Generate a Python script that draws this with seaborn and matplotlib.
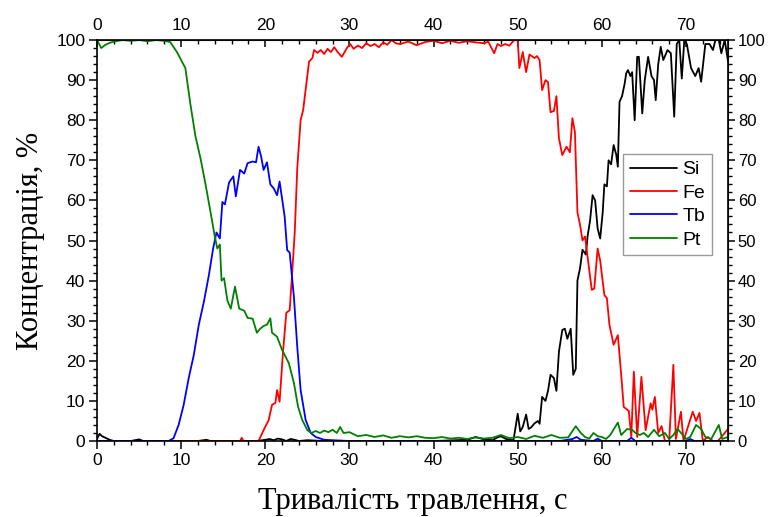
import matplotlib
matplotlib.use("Agg")
import matplotlib.pyplot as plt
from matplotlib.ticker import MultipleLocator
import seaborn as sns
import pandas as pd

# ---------------- data ----------------
si_t = [0, 0.3, 0.6, 1.0, 1.5, 2, 3, 4, 5, 5.5, 6, 8, 10, 12, 13, 13.5, 14, 17, 19, 20, 20.5, 21, 21.5, 22,
        22.5, 23, 23.5, 24, 25, 27, 30, 35, 40, 44, 45, 46, 47, 47.5, 48, 48.5, 49, 49.5, 50, 50.3, 50.6, 51,
        51.3, 51.6, 52, 52.4, 52.6, 52.9, 53.3, 53.6, 53.9, 54.3, 54.6, 54.9, 55.3, 55.6, 55.9, 56.3, 56.6,
        56.9, 57.1, 57.4, 57.7, 58.1, 58.3, 58.6, 58.9, 59.2, 59.5, 59.8, 60.1, 60.3, 60.6, 60.8, 61.1, 61.4,
        61.7, 61.9, 62.1, 62.4, 62.7, 62.9, 63.1, 63.4, 63.6, 63.9, 64.2, 64.4, 64.8, 65.1, 65.5, 65.9, 66.2,
        66.4, 66.7, 67.0, 67.3, 67.8, 68.2, 68.6, 68.9, 69.2, 69.5, 69.8, 70.1, 70.6, 71.1, 71.5, 71.8, 72.3,
        72.8, 73.2, 73.5, 73.9, 74.2, 74.6, 75.0]
si_c = [0.5, 1.8, 1.2, 0.8, 0.3, 0, 0, 0, 0.4, 0, 0, 0, 0, 0, 0.3, 0, 0, 0, 0, 0.3, 0.5, 0.2, 0.6, 0.4,
        0, 0.5, 0.3, 0, 0.2, 0, 0, 0, 0, 0.3, 1.0, 0.4, 0.2, 0.8, 1.2, 0.6, 0.3, 0.2, 6.8, 2.4, 3.5, 6.6,
        3.0, 3.4, 4.4, 5.0, 4.3, 11, 10, 12.5, 16.5, 15.7, 12.5, 22.3, 27.7, 28, 25.5, 28, 16.5,
        18, 40, 43, 47.7, 46.5, 51, 55, 61.3, 60, 53, 50.5, 57, 64, 63.5, 70, 69, 73.8,
        71.5, 68.4, 84.6, 86, 89, 91.7, 92.5, 91, 92, 80, 95.8, 95.8, 81.7, 90, 95.8, 91, 90,
        85, 94, 98.3, 95, 97.5, 96.7, 80.9, 99, 100, 90.4, 100, 99, 93, 91, 93, 89.6, 99,
        99, 97.5, 100, 100, 96.7, 100, 94.6]

fe_t = [0, 5, 10, 15, 17, 17.2, 17.4, 18, 19.2, 19.8, 20.4, 20.8, 21.2, 21.4, 21.7, 22.1, 22.5, 22.9, 23.2,
        23.5, 23.8, 24.2, 24.5, 25.0, 25.2, 25.6, 25.8, 26.2, 26.6, 27.0, 27.4, 27.8, 28.2, 28.6, 29.1, 29.7,
        30.1, 30.5, 31, 31.5, 32, 32.5, 33, 33.5, 34, 34.5, 35, 35.5, 36, 37, 38, 39, 40, 41, 42, 43, 44, 45,
        46, 46.5, 47.2, 47.6, 48, 48.5, 49, 49.6, 50.0, 50.2, 50.6, 51.0, 51.4, 52.0, 52.3, 52.6, 52.9, 53.3,
        53.6, 53.9, 54.3, 54.6, 54.9, 55.3, 55.8, 56.2, 56.5, 56.8, 57.1, 57.4, 57.7, 58.0, 58.3, 58.8, 59.1,
        59.5, 59.8, 60.3, 60.6, 60.9, 61.4, 61.9, 62.3, 62.6, 63.2, 63.5, 63.8, 64.2, 64.7, 65.2, 65.8, 66.0,
        66.3, 66.7, 67.1, 67.5, 68.0, 68.5, 68.8, 69.4, 69.7, 70.0, 70.8, 71.2, 71.6, 72.0, 72.6, 73.2, 73.8,
        74.6, 75.0]
fe_c = [0, 0, 0, 0, 0, 0.8, 0, 0, 0, 2.7, 5.2, 9, 9.5, 12.7, 9.8, 22, 32, 32.6, 42,
        52, 68, 80, 82.5, 91, 94.6, 95.5, 97.5, 96.8, 97.5, 96.5, 97.8, 97, 98.2, 97, 95.8, 98,
        99, 97.8, 98.6, 98, 99.2, 98.5, 99, 98.2, 99.4, 98.8, 100, 99.2, 99, 99.6, 98.7, 99.5, 99.8, 99.2,
        99.8, 99.3, 99.7, 99.4, 99.2, 99.6, 96.7, 99, 98.5, 99, 98.6, 100, 100, 93, 97, 92, 96.4, 95.5, 96,
        95, 87.5, 90, 89.5, 82, 82.3, 86, 75.5, 71.3, 73.4, 72, 80.5, 77, 57, 54, 50, 51, 46, 37.7, 38,
        48, 45, 36.4, 35.6, 29, 24, 26.4, 16.5, 8.5, 7.5, 1, 17.3, 1, 16, 2.7, 9.4, 7.8,
        11, 2, 3.7, 0, 0, 19, 0.5, 7.3, 0, 2, 7.3, 5, 7, 0, 1, 0, 0,
        2, 3]

tb_t = [0, 5, 8.5, 9.1, 9.7, 10.3, 10.9, 11.5, 12.1, 12.7, 13.3, 13.8, 14.2, 14.6, 14.9, 15.2, 15.7, 16.2,
        16.5, 17.0, 17.5, 17.9, 18.5, 18.9, 19.2, 19.5, 19.8, 20.2, 20.6, 21.0, 21.4, 21.7, 22.3, 22.6, 22.9,
        23.4, 23.8, 24.2, 24.8, 25.4, 26.0, 27.0, 30, 40, 50, 55, 56.5, 57, 57.5, 59, 59.5, 60, 63, 63.5, 64,
        70, 70.5, 71, 75]
tb_c = [0, 0, 0, 0.7, 4, 9, 15.7, 21.4, 29, 34.7, 41.4, 48, 52, 50.5, 59.6, 59, 64.5, 66,
        61, 67.6, 66.7, 69.3, 69.7, 69.5, 73.4, 71, 67.6, 69.5, 64, 63, 61.3, 64.7, 56, 47.6, 47,
        36, 23.5, 12.7, 5.2, 2, 1, 0.3, 0, 0, 0, 0, 0.5, 1, 0.3, 0, 0.6, 0, 0, 0.8, 0,
        0, 0.5, 0, 0]

pt_t = [0, 0.5, 1, 1.5, 2, 3, 4, 5, 6, 7, 8, 8.7, 9.5, 10, 10.5, 11.1, 11.7, 12.3, 12.9, 13.5, 14.0, 14.3,
        14.6, 14.8, 15.1, 15.5, 15.9, 16.4, 16.9, 17.5, 17.9, 18.5, 19.0, 19.4, 19.8, 20.2, 20.6, 20.8, 21.4,
        22.0, 22.8, 23.4, 23.9, 24.4, 25.0, 25.5, 26, 26.5, 27, 27.5, 28, 28.5, 28.9, 29.3, 30, 31, 32, 33, 34,
        35, 36, 37, 38, 39, 40, 41, 42, 43, 44, 45, 46, 47, 48, 49, 50, 51, 52, 53, 54, 55, 56, 56.9, 57.5,
        58, 58.5, 59, 59.5, 60, 60.5, 61, 61.9, 62.3, 63, 63.6, 64, 64.5, 65, 65.5, 66.2, 66.8, 67.5, 68,
        68.5, 69, 69.5, 70, 70.5, 71.2, 71.8, 72.3, 73, 73.9, 74.3, 75]
pt_c = [100, 98, 98.8, 99.3, 99.6, 100, 99.8, 100, 99.7, 100, 99.8, 99.5, 97, 95, 93, 84, 76, 70.5, 64, 57, 51, 48,
        49, 40, 40.6, 35, 33, 38.5, 33, 32.5, 30.7, 30.5, 27, 28, 28.7, 29, 30.6, 27, 26,
        22.7, 19.4, 14.5, 8.5, 5.2, 2.7, 2, 2.5, 2, 2.6, 2.2, 2.8, 2, 3.5, 2, 2.2, 1.2, 1.5, 1, 1.4,
        0.8, 1.2, 0.9, 1.2, 0.8, 0.7, 1, 0.6, 0.8, 0.5, 0.9, 0.6, 0.8, 1.5, 0.7, 1, 0.5, 1.3, 0.8, 1.5, 0.8,
        0.9, 3.7, 2, 1, 0.6, 2, 1.2, 1, 0.5, 1.5, 4.6, 1.5, 3, 2.8, 2, 1.5, 2, 1, 2.8, 1.2, 2, 0.5,
        1.5, 3, 1.8, 0.5, 1, 4, 3, 1, 0.5, 4, 0.5, 1]

elements = ["Si", "Fe", "Tb", "Pt"]
colors = ["#000000", "#ff0000", "#0000ff", "#008000"]
x_ticks = [0, 10, 20, 30, 40, 50, 60, 70]
y_ticks = [0, 10, 20, 30, 40, 50, 60, 70, 80, 90, 100]

frames = []
for name, t, c in zip(elements, [si_t, fe_t, tb_t, pt_t], [si_c, fe_c, tb_c, pt_c]):
    frames.append(pd.DataFrame({"t": t, "c": c, "el": name}))
df = pd.concat(frames, ignore_index=True)

# ---------------- plot ----------------
sns.set_style("ticks")
plt.rcParams["font.family"] = ["Liberation Sans", "DejaVu Sans"]
plt.rcParams["text.color"] = "black"
plt.rcParams["xtick.color"] = "black"
plt.rcParams["ytick.color"] = "black"
plt.rcParams["axes.labelcolor"] = "black"

fig = plt.figure(figsize=(7.68, 5.17), dpi=100)
ax = fig.add_axes([0.1263, 0.147, 0.8217, 0.7756])

sns.lineplot(data=df, x="t", y="c", hue="el", hue_order=elements,
             palette=dict(zip(elements, colors)), estimator=None, sort=False,
             linewidth=1.3, ax=ax)

ax.set_xlim(0, 75)
ax.set_ylim(0, 100)
ax.set_xticks(x_ticks)
ax.set_yticks(y_ticks)
ax.xaxis.set_minor_locator(MultipleLocator(2))
ax.yaxis.set_minor_locator(MultipleLocator(2))
ax.tick_params(axis="both", which="major", direction="out", length=5.5, width=1.1,
               labelsize=12.5, color="black", labelcolor="black", pad=3)
ax.tick_params(axis="both", which="minor", direction="out", length=3, width=1.0, color="black")
for s in ax.spines.values():
    s.set_visible(True)
    s.set_linewidth(1.2)
    s.set_color("black")

secx = ax.secondary_xaxis("top")
secx.set_xticks(x_ticks)
secx.xaxis.set_minor_locator(MultipleLocator(2))
secx.tick_params(axis="x", which="major", direction="in", length=5, width=1.1, labelsize=12.5,
                 pad=5, color="black", labelcolor="black")
secx.tick_params(axis="x", which="minor", direction="in", length=3, width=1.0, color="black")

secy = ax.secondary_yaxis("right")
secy.set_yticks(y_ticks)
secy.yaxis.set_minor_locator(MultipleLocator(2))
secy.tick_params(axis="y", which="major", direction="out", length=5, width=1.1, labelsize=12,
                 pad=2, color="black", labelcolor="black")
secy.tick_params(axis="y", which="minor", direction="out", length=3, width=1.0, color="black")

ax.set_xlabel("Тривалість травлення, с", family=["Liberation Serif", "DejaVu Serif"],
              fontsize=22, labelpad=14, color="black")
ax.set_ylabel("Концентрація, %", family=["Liberation Serif", "DejaVu Serif"],
              fontsize=22, labelpad=8, color="black")

handles, labels = ax.get_legend_handles_labels()
leg = ax.legend(handles, labels, loc="upper left", bbox_to_anchor=(0.834, 0.716),
                borderaxespad=0, fancybox=False, edgecolor="#999999", framealpha=1,
                fontsize=14, handlelength=2.4, handletextpad=0.3, labelspacing=0.3,
                borderpad=0.35)
leg.get_frame().set_linewidth(1.0)
for txt in leg.get_texts():
    txt.set_color("black")

fig.savefig("out.png", dpi=100)
